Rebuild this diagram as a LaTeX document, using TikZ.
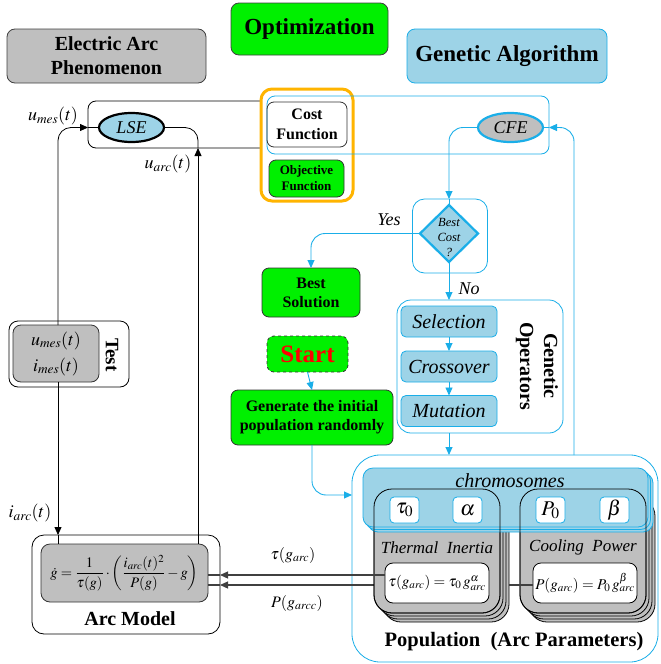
\documentclass[tikz,border=0pt]{standalone}
\usepackage{mathptmx}
\usepackage[no-math]{fontspec}
\setmainfont{Liberation Serif}
\usetikzlibrary{shapes.geometric,arrows.meta,calc}
\definecolor{agreen}{HTML}{00F000}
\definecolor{agray}{HTML}{BFBFBF}
\definecolor{ablue}{HTML}{9DD3E7}
\definecolor{acyan}{HTML}{1AAEE8}
\definecolor{aorange}{HTML}{FFB400}
\definecolor{aline}{HTML}{404040}
\newcommand{\fsz}[2]{\fontsize{#1}{#2}\selectfont}
\begin{document}
\begin{tikzpicture}[x=1pt,y=-1pt,
  every node/.style={inner sep=0pt, outer sep=0pt, align=center},
  arr/.style={-{Triangle[length=8pt,width=7pt]}},
  hdr/.style={draw=black!75, line width=0.8pt, rounded corners=8pt, font=\bfseries\fsz{20}{24}},
  gbox/.style={draw=black!80, fill=agreen, line width=0.8pt, rounded corners=7pt, font=\bfseries\fsz{16}{19}},
  bbox/.style={draw=acyan, fill=ablue, line width=0.8pt, rounded corners=5pt, font=\itshape\fsz{20}{24}},
  region/.style={draw=acyan, line width=0.8pt},
  blk/.style={draw=black, line width=0.8pt},
  cyl/.style={draw=acyan, line width=0.9pt},
  gl/.style={draw=aline, line width=1.2pt},
  stk/.style={draw=black, fill=agray, line width=0.8pt, rounded corners=18pt, minimum width=126pt, minimum height=124pt},
  chr/.style={draw=acyan, fill=ablue, line width=0.8pt, rounded corners=10pt, minimum width=285pt, minimum height=59pt},
  pbox/.style={draw=acyan, fill=white, line width=0.8pt, rounded corners=4pt, minimum width=29pt, minimum height=26pt, font=\fsz{21}{22}},
  fbox/.style={draw=black, fill=white, line width=0.8pt, rounded corners=8pt, minimum width=104pt, minimum height=40pt, font=\fsz{15}{18}},
  mlab/.style={font=\fsz{18}{20}}
]
\useasboundingbox (0,0) rectangle (661,664);

% headers
\node[hdr, fill=agray, minimum width=199pt, minimum height=54pt] (ea) at (106.5,56) {Electric Arc\\Phenomenon};
\node[hdr, fill=agreen, minimum width=157pt, minimum height=52pt, font=\bfseries\fsz{23}{26}] (opt) at (309.5,29) {Optimization};
\node[hdr, draw=acyan, fill=ablue, minimum width=200pt, minimum height=54pt, font=\bfseries\fsz{23}{26}] (ga) at (507,56) {Genetic Algorithm};

% top regions
\node[blk, rounded corners=8pt, minimum width=202pt, minimum height=47pt] (lsereg) at (189,124.5) {};
\node[draw=aorange, line width=3pt, fill=white, rounded corners=11pt, minimum width=92pt, minimum height=112pt] (orng) at (307,145) {};
\node[region, rounded corners=8pt, minimum width=282pt, minimum height=58pt] (cyreg) at (408,125) {};
\node[draw=black!80, line width=0.8pt, rounded corners=7pt, minimum width=80pt, minimum height=45pt, font=\bfseries\fsz{16}{20}] (cost) at (307,124.5) {Cost\\Function};
\node[gbox, minimum width=75pt, minimum height=37pt, font=\bfseries\fsz{13}{16}] (obj) at (306.5,178.5) {Objective\\Function};
\node[ellipse, draw=black, line width=2.2pt, fill=ablue, minimum width=65pt, minimum height=29pt, font=\itshape\fsz{18}{20}] (lse) at (131.5,127.5) {LSE};
\node[ellipse, draw=acyan, line width=2.2pt, fill=agray, minimum width=65pt, minimum height=29pt, font=\itshape\fsz{18}{20}] (cfe) at (510.5,127.5) {CFE};

% labels left
\node[mlab] (lbumes) at (53,116) {$u_{mes}(t)$};
\node[mlab] (lbuarc) at (168,164) {$u_{arc}(t)$};
\node[mlab] (lbiarc) at (30,513) {$i_{arc}(t)$};

% test
\node[draw, line width=0.8pt, rounded corners=9pt, minimum width=120pt, minimum height=66pt, fill=white] (testout) at (69,354) {};
\node[draw=black!80, line width=0.8pt, fill=agray, rounded corners=8pt, minimum width=86pt, minimum height=57pt, font=\fsz{18}{26}] (testin) at (56,353.5) {$u_{mes}(t)$\\$i_{mes}(t)$};
\node[rotate=-90, font=\bfseries\fsz{19}{22}] (testlb) at (112,355) {Test};

% arc model
\node[draw, line width=0.8pt, rounded corners=12pt, fill=white, minimum width=188pt, minimum height=99pt] (arcout) at (126,584.5) {};
\node[draw=black!80, line width=0.8pt, fill=agray, rounded corners=9pt, minimum width=167pt, minimum height=58pt, font=\fsz{14.5}{16}] (arcin) at (124.5,573) {$\displaystyle \dot g=\frac{1}{\tau(g)}\cdot\left(\frac{i_{arc}(t)^2}{P(g)}-g\right)$};
\node[font=\bfseries\fsz{20}{24}] (arclb) at (130,619) {Arc Model};

% black connectors
\coordinate (xl) at (58,0);
\coordinate (xr) at (198,0);
\draw[blk, arr, rounded corners=13pt] (testin.north -| xl) |- (lsereg.west |- lse.west);
\draw[blk] (lsereg.west |- lse.west) -- (lse.west);
\draw[blk, rounded corners=13pt] (lse.east) -| (lsereg.south -| xr);
\draw[blk, arr] (arcin.north -| xr) -- (lsereg.south -| xr);
\draw[blk, arr] (testin.south -| xl) -- (arcout.north -| xl);
\draw[blk] (arcout.north -| xl) -- (arcin.north -| xl);

% GA flow
\node[region, rounded corners=12pt, minimum width=75pt, minimum height=74pt] (dbox) at (450,236) {};
\node[diamond, draw=acyan, line width=2.2pt, fill=ablue, minimum width=58pt, minimum height=57pt] (dia) at (449,233.5) {};
\node[font=\itshape\fsz{12.5}{15}] (dialb) at (449,237) {Best\\Cost\\?};
\node[gbox, minimum width=98pt, minimum height=49pt] (best) at (311,292.5) {Best\\Solution};
\node[gbox, dashed, minimum width=81pt, minimum height=36pt, font=\bfseries\fsz{25}{28}, text=red] (start) at (307.5,354) {Start};
\node[gbox, minimum width=162pt, minimum height=55pt] (gen) at (312,417.5) {Generate the initial\\population randomly};
\node[region, fill=white, rounded corners=14pt, minimum width=166pt, minimum height=133pt] (gobox) at (480,366.5) {};
\node[bbox, minimum width=96pt, minimum height=31pt] (sel) at (449,321.5) {Selection};
\node[bbox, minimum width=96pt, minimum height=31pt] (cro) at (449,366.5) {Crossover};
\node[bbox, minimum width=96pt, minimum height=31pt] (mut) at (449,411) {Mutation};
\node[rotate=-90, font=\bfseries\fsz{20}{24}] (golb) at (537,366) {Genetic\\Operators};
\node[font=\itshape\fsz{18}{20}] (yes) at (389,220) {Yes};
\node[font=\itshape\fsz{18}{20}] (no) at (469,289) {No};

% population
\node[region, rounded corners=28pt, fill=white, minimum width=306pt, minimum height=207pt] (pop) at (505,558.5) {};
\coordinate (cpfw) at (533,585);
\draw[gl, arr] (cpfw) -- (arcout.east |- cpfw);
\draw[gl] (arcout.east |- cpfw) -- (arcin.east |- cpfw);
\foreach \d in {9,6,3,0} {
  \node[stk] (ti\d) at (437+\d,551+\d) {};
  \node[stk] (cp\d) at (583+\d,551+\d) {};
}
\foreach \d/\n in {5/a,2.5/b,0/c} {
  \node[chr] (chr\n) at (505.5+\d,497.5+\d) {};
}
\node[stk, fill=none] (tifront) at (437,551) {};
\node[stk, fill=none] (cpfront) at (583,551) {};
\node[font=\itshape\fsz{20}{22}] (chl) at (510,481) {chromosomes};
\node[pbox] (tau0) at (404.5,510) {$\tau_0$};
\node[pbox] (alp) at (467.5,510) {$\alpha$};
\node[pbox] (p0) at (550.5,510) {$P_0$};
\node[pbox] (bet) at (614.5,510) {$\beta$};
\node[font=\itshape\fsz{17}{20}] (til) at (437,548) {Thermal\ \ Inertia};
\node[font=\itshape\fsz{17}{20}] (cpl) at (583,547) {Cooling\ \ Power};
\node[fbox] (tif) at (437,583) {$\tau(g_{arc})=\tau_0\, g_{arc}^{\alpha}$};
\node[fbox] (cpf) at (585,583) {$P(g_{arc})=P_0\, g_{arc}^{\beta}$};
\node[font=\bfseries\fsz{20.5}{24}] (poplb) at (514,642) {Population\ \ (Arc Parameters)};

\coordinate (ty) at (0,575);
\draw[gl, arr] (tif.west |- ty) -- (arcout.east |- ty);
\draw[gl] (arcout.east |- ty) -- (arcin.east |- ty);
\draw[gl] (cpf.west |- cpfw) -- (ti9.east |- cpfw);
\node[font=\fsz{16}{18}] (taulb) at (293,555) {$\tau(g_{arc})$};
\node[font=\fsz{16}{18}] (plb) at (297,603) {$P(g_{arcc})$};

% cyan connectors
\coordinate (fb) at (574,0);
\coordinate (gp) at (0,495);
\draw[cyl, arr, rounded corners=14pt] (cfe.west) -| (dbox.north -| dia.north);
\draw[cyl] (dbox.north -| dia.north) -- (dia.north);
\draw[cyl, arr, rounded corners=14pt] (dia.west) -| (best.north);
\draw[cyl, arr] (dia.south) -- (gobox.north -| dia.south);
\draw[cyl, arr] (sel.south) -- (cro.north);
\draw[cyl, arr] (cro.south) -- (mut.north);
\draw[cyl, arr] (gobox.south -| mut.south) -- (pop.north -| mut.south);
\draw[cyl, arr, rounded corners=14pt] (pop.north -| fb) |- (cyreg.east |- cfe.east);
\draw[cyl] (cyreg.east |- cfe.east) -- (cfe.east);
\draw[cyl, arr] (start.south) -- (gen.north);
\draw[cyl, arr, rounded corners=14pt] (gen.south) |- (pop.west |- gp);
\end{tikzpicture}
\end{document}
